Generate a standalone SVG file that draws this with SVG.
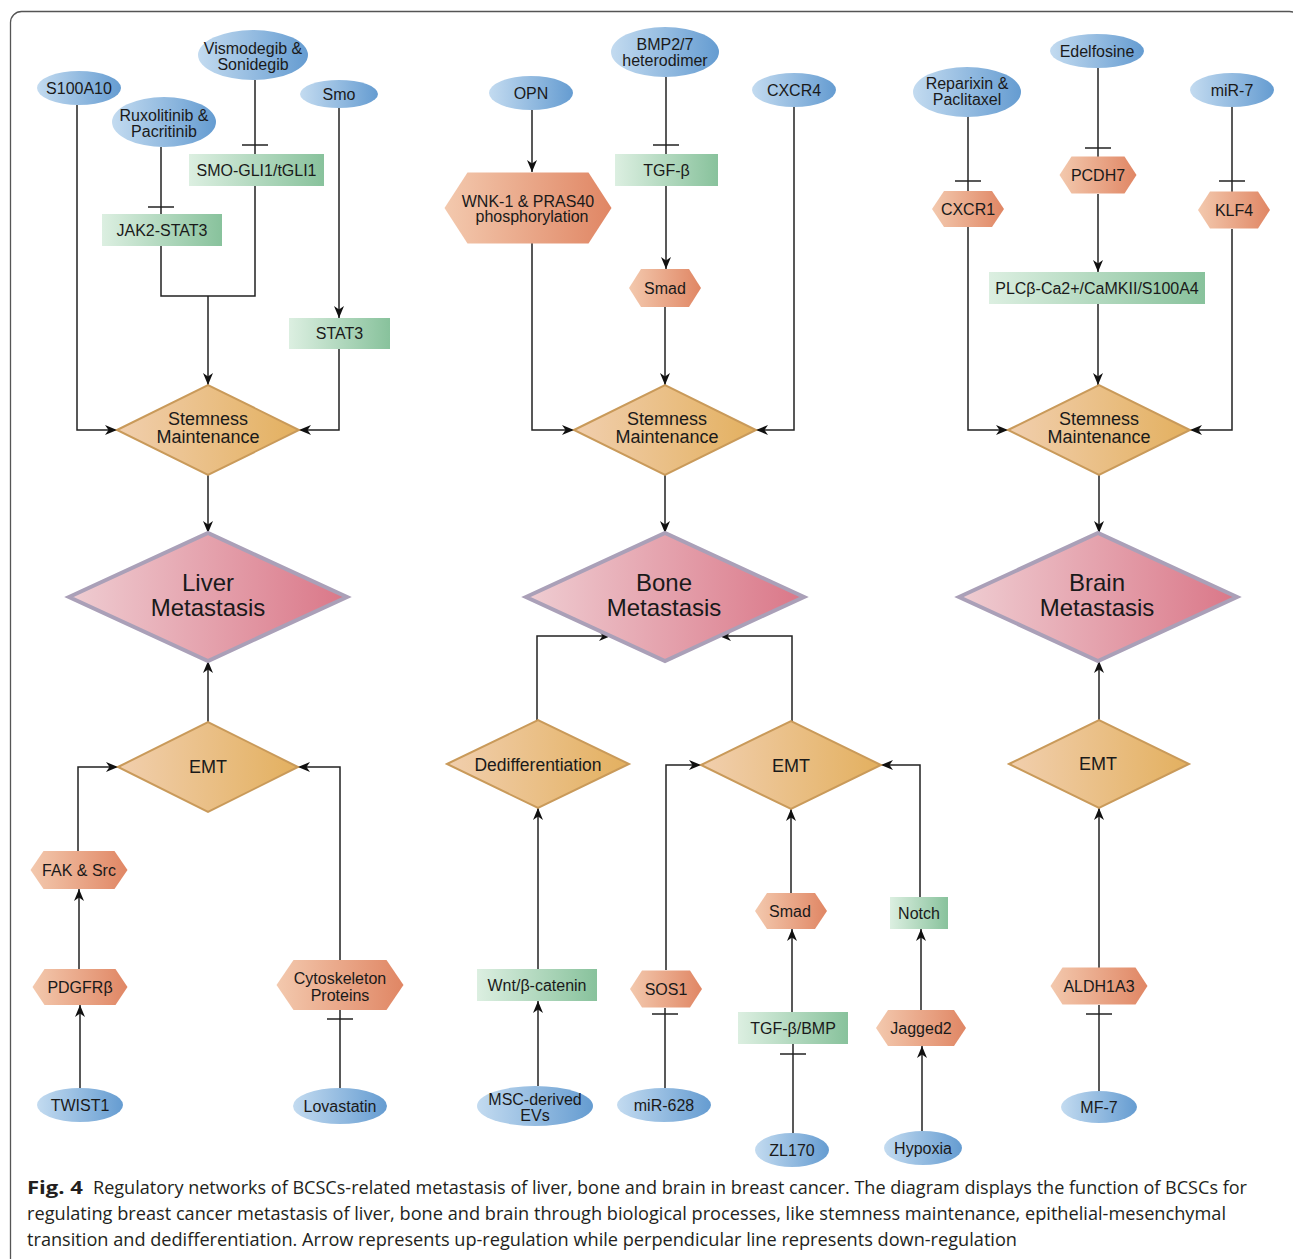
<svg xmlns="http://www.w3.org/2000/svg" width="1293" height="1259" viewBox="0 0 1293 1259">
<defs>
<linearGradient id="gBlue" x1="0" y1="0" x2="1" y2="0"><stop offset="0" stop-color="#c3dbf0"/><stop offset="1" stop-color="#659cd1"/></linearGradient>
<linearGradient id="gGreen" x1="0" y1="0" x2="1" y2="0"><stop offset="0" stop-color="#dcefe1"/><stop offset="1" stop-color="#88c29c"/></linearGradient>
<linearGradient id="gSalmon" x1="0" y1="0" x2="1" y2="0"><stop offset="0" stop-color="#f3c9ae"/><stop offset="1" stop-color="#e08664"/></linearGradient>
<linearGradient id="gTan" x1="0" y1="0" x2="1" y2="0"><stop offset="0" stop-color="#f1cfae"/><stop offset="1" stop-color="#e3b05f"/></linearGradient>
<linearGradient id="gPink" x1="0" y1="0" x2="1" y2="0"><stop offset="0" stop-color="#efcdd2"/><stop offset="1" stop-color="#da7788"/></linearGradient>
<marker id="arr" viewBox="0 0 12 10" refX="12" refY="5" markerWidth="12" markerHeight="10" markerUnits="userSpaceOnUse" orient="auto">
<path d="M0,0 L12,5 L0,10 L3.5,5 z" fill="#111"/>
</marker>
</defs>
<style>
.t{font-family:"Liberation Sans",Arial,sans-serif;fill:#1a1a1a;text-anchor:middle;font-size:16px}
.ell{fill:url(#gBlue)}
.box{fill:url(#gGreen)}
.hex{fill:url(#gSalmon)}
.dia{fill:url(#gTan);stroke:#c99a5a;stroke-width:2}
.met{fill:url(#gPink);stroke:#aaa0b8;stroke-width:4;stroke-linejoin:miter}
.c{fill:none;stroke:#222;stroke-width:1.5}
.a{marker-end:url(#arr)}
.cap{font-family:"Open Sans","Liberation Sans",sans-serif;fill:#231f20;font-size:18px}
</style>
<rect width="1293" height="1259" fill="#fff"/>
<rect x="10.5" y="11.5" width="1290" height="1262" rx="11" fill="none" stroke="#555" stroke-width="1.3"/>

<g id="connectors">
<!-- Liver -->
<path class="c a" d="M77,105 V430 H117"/>
<path class="c" d="M161,147 V214"/><path class="c" d="M148,207 H174"/>
<path class="c" d="M255,80 V154"/><path class="c" d="M242,145 H268"/>
<path class="c" d="M161,246 V296 H255 V186"/>
<path class="c a" d="M208,296 V385"/>
<path class="c a" d="M339,108 V318"/>
<path class="c a" d="M339,349 V430 H299"/>
<path class="c a" d="M208,475 V533"/>
<path class="c a" d="M208,722 V661"/>
<path class="c a" d="M78,851 V767 H118"/>
<path class="c a" d="M79,969 V889"/>
<path class="c a" d="M80,1088 V1005"/>
<path class="c a" d="M340,960 V767 H298"/>
<path class="c" d="M340,1088 V1010"/><path class="c" d="M327,1019 H353"/>
<!-- Bone -->
<path class="c a" d="M532,110 V172"/>
<path class="c a" d="M532,243 V430 H574"/>
<path class="c" d="M666,77 V154"/><path class="c" d="M653,145 H679"/>
<path class="c a" d="M666,186 V269"/>
<path class="c a" d="M665,307 V385"/>
<path class="c a" d="M794,107 V430 H756"/>
<path class="c a" d="M665,475 V533"/>
<path class="c a" d="M537,720 V636 H611"/>
<path class="c a" d="M792,721 V636 H719"/>
<path class="c a" d="M538,969 V808"/>
<path class="c a" d="M538,1086 V1001"/>
<path class="c a" d="M666,970 V765 H701"/>
<path class="c" d="M665,1088 V1008"/><path class="c" d="M652,1014 H678"/>
<path class="c a" d="M791,893 V809"/>
<path class="c a" d="M792,1012 V929"/>
<path class="c" d="M793,1133 V1044"/><path class="c" d="M780,1054 H806"/>
<path class="c a" d="M920,897 V765 H881"/>
<path class="c a" d="M921,1010 V929"/>
<path class="c a" d="M922,1131 V1046"/>
<!-- Brain -->
<path class="c" d="M968,116 V191"/><path class="c" d="M955,181 H981"/>
<path class="c" d="M1098,68 V157"/><path class="c" d="M1085,148 H1111"/>
<path class="c" d="M1232,107 V192"/><path class="c" d="M1219,181 H1245"/>
<path class="c a" d="M1098,194 V272"/>
<path class="c a" d="M1098,304 V385"/>
<path class="c a" d="M968,227 V430 H1008"/>
<path class="c a" d="M1232,229 V430 H1190"/>
<path class="c a" d="M1099,475 V533"/>
<path class="c a" d="M1099,720 V661"/>
<path class="c a" d="M1099,968 V808"/>
<path class="c" d="M1099,1091 V1005"/><path class="c" d="M1086,1014 H1112"/>
</g>

<!-- Liver column -->
<g id="s100a10"><ellipse class="ell" cx="79" cy="88" rx="42" ry="17"/><text class="t" x="79" y="94">S100A10</text></g>
<g id="ruxolitinib"><ellipse class="ell" cx="164" cy="122" rx="52" ry="25"/><text class="t" x="164" y="121">Ruxolitinib &amp;</text><text class="t" x="164" y="137">Pacritinib</text></g>
<g id="vismodegib"><ellipse class="ell" cx="253" cy="55" rx="55" ry="25"/><text class="t" x="253" y="54">Vismodegib &amp;</text><text class="t" x="253" y="70">Sonidegib</text></g>
<g id="smo"><ellipse class="ell" cx="339" cy="94" rx="39" ry="14"/><text class="t" x="339" y="100">Smo</text></g>
<g id="smo-gli1"><rect class="box" x="189" y="154" width="135" height="32"/><text class="t" x="256.5" y="176">SMO-GLI1/tGLI1</text></g>
<g id="jak2-stat3"><rect class="box" x="102" y="214" width="120" height="32"/><text class="t" x="162" y="236">JAK2-STAT3</text></g>
<g id="stat3"><rect class="box" x="289" y="318" width="101" height="31"/><text class="t" x="339.5" y="339">STAT3</text></g>
<g id="stemness-liver"><polygon class="dia" points="117,430 208,385 299,430 208,475"/><text class="t" x="208" y="425" style="font-size:18px">Stemness</text><text class="t" x="208" y="443" style="font-size:18px">Maintenance</text></g>
<g id="liver-metastasis"><polygon class="met" points="69,597 208,533 347,597 208,661"/><text class="t" x="208" y="591" style="font-size:24px">Liver</text><text class="t" x="208" y="616" style="font-size:24px">Metastasis</text></g>
<g id="emt-liver"><polygon class="dia" points="118,767 208,722 298,767 208,812"/><text class="t" x="208" y="773" style="font-size:18px">EMT</text></g>
<g id="fak-src"><polygon class="hex" points="30.5,870 43.5,851 114.5,851 127.5,870 114.5,889 43.5,889"/><text class="t" x="79" y="876">FAK &amp; Src</text></g>
<g id="pdgfrb"><polygon class="hex" points="32.5,987 44.5,969 115.5,969 127.5,987 115.5,1005 44.5,1005"/><text class="t" x="80" y="993">PDGFRβ</text></g>
<g id="twist1"><ellipse class="ell" cx="80" cy="1105" rx="43" ry="17"/><text class="t" x="80" y="1111">TWIST1</text></g>
<g id="cytoskeleton"><polygon class="hex" points="276.5,985 293.5,960 386.5,960 403.5,985 386.5,1010 293.5,1010"/><text class="t" x="340" y="984">Cytoskeleton</text><text class="t" x="340" y="1001">Proteins</text></g>
<g id="lovastatin"><ellipse class="ell" cx="340" cy="1106" rx="47" ry="18"/><text class="t" x="340" y="1112">Lovastatin</text></g>

<!-- Bone column -->
<g id="opn"><ellipse class="ell" cx="531" cy="93" rx="42" ry="17"/><text class="t" x="531" y="99">OPN</text></g>
<g id="wnk1-pras40"><polygon class="hex" points="444.5,208 467.5,172.5 588.5,172.5 611.5,208 588.5,243.5 467.5,243.5"/><text class="t" x="528" y="207">WNK-1 &amp; PRAS40</text><text class="t" x="532" y="222">phosphorylation</text></g>
<g id="bmp27"><ellipse class="ell" cx="665" cy="52" rx="54" ry="25"/><text class="t" x="665" y="50">BMP2/7</text><text class="t" x="665" y="66">heterodimer</text></g>
<g id="tgfb"><rect class="box" x="615" y="154" width="103" height="32"/><text class="t" x="666.5" y="176">TGF-β</text></g>
<g id="smad-top"><polygon class="hex" points="629,288 641,269 689,269 701,288 689,307 641,307"/><text class="t" x="665" y="294">Smad</text></g>
<g id="cxcr4"><ellipse class="ell" cx="794" cy="90" rx="42" ry="17"/><text class="t" x="794" y="96">CXCR4</text></g>
<g id="stemness-bone"><polygon class="dia" points="574,430 665,385 756,430 665,475"/><text class="t" x="667" y="425" style="font-size:18px">Stemness</text><text class="t" x="667" y="443" style="font-size:18px">Maintenance</text></g>
<g id="bone-metastasis"><polygon class="met" points="526,597 665,533 804,597 665,661"/><text class="t" x="664" y="591" style="font-size:24px">Bone</text><text class="t" x="664" y="616" style="font-size:24px">Metastasis</text></g>
<g id="dedifferentiation"><polygon class="dia" points="447,764 538,720 629,764 538,808"/><text class="t" x="538" y="771" style="font-size:17.5px">Dedifferentiation</text></g>
<g id="emt-bone"><polygon class="dia" points="701,765 791,721 881,765 791,809"/><text class="t" x="791" y="772" style="font-size:18px">EMT</text></g>
<g id="wnt"><rect class="box" x="477" y="969" width="120" height="32"/><text class="t" x="537" y="991">Wnt/β-catenin</text></g>
<g id="msc-evs"><ellipse class="ell" cx="535" cy="1106" rx="58" ry="20"/><text class="t" x="535" y="1105">MSC-derived</text><text class="t" x="535" y="1121">EVs</text></g>
<g id="sos1"><polygon class="hex" points="630,989 642,970.5 690,970.5 702,989 690,1007.5 642,1007.5"/><text class="t" x="666" y="995">SOS1</text></g>
<g id="mir628"><ellipse class="ell" cx="664" cy="1105" rx="47" ry="17"/><text class="t" x="664" y="1111">miR-628</text></g>
<g id="smad-bottom"><polygon class="hex" points="755,911 767,893 815,893 827,911 815,929 767,929"/><text class="t" x="790" y="917">Smad</text></g>
<g id="tgfb-bmp"><rect class="box" x="738" y="1012" width="110" height="32"/><text class="t" x="793" y="1034">TGF-β/BMP</text></g>
<g id="zl170"><ellipse class="ell" cx="792" cy="1150" rx="37" ry="17"/><text class="t" x="792" y="1156">ZL170</text></g>
<g id="notch"><rect class="box" x="890" y="897" width="58" height="32"/><text class="t" x="919" y="919">Notch</text></g>
<g id="jagged2"><polygon class="hex" points="876,1028 888,1010 954,1010 966,1028 954,1046 888,1046"/><text class="t" x="921" y="1034">Jagged2</text></g>
<g id="hypoxia"><ellipse class="ell" cx="923" cy="1148" rx="39" ry="17"/><text class="t" x="923" y="1154">Hypoxia</text></g>

<!-- Brain column -->
<g id="reparixin"><ellipse class="ell" cx="967" cy="92" rx="54" ry="25"/><text class="t" x="967" y="89">Reparixin &amp;</text><text class="t" x="967" y="105">Paclitaxel</text></g>
<g id="edelfosine"><ellipse class="ell" cx="1097" cy="51" rx="47" ry="17"/><text class="t" x="1097" y="57">Edelfosine</text></g>
<g id="mir7"><ellipse class="ell" cx="1232" cy="90" rx="42" ry="17"/><text class="t" x="1232" y="96">miR-7</text></g>
<g id="cxcr1"><polygon class="hex" points="932,209 944,191 992,191 1004,209 992,227 944,227"/><text class="t" x="968" y="215">CXCR1</text></g>
<g id="pcdh7"><polygon class="hex" points="1059.5,175 1071.5,156.5 1124.5,156.5 1136.5,175 1124.5,193.5 1071.5,193.5"/><text class="t" x="1098" y="181">PCDH7</text></g>
<g id="klf4"><polygon class="hex" points="1198,210 1210,191.5 1258,191.5 1270,210 1258,228.5 1210,228.5"/><text class="t" x="1234" y="216">KLF4</text></g>
<g id="plcb"><rect class="box" x="989" y="272" width="216" height="32"/><text class="t" x="1097" y="294">PLCβ-Ca2+/CaMKII/S100A4</text></g>
<g id="stemness-brain"><polygon class="dia" points="1008,430 1099,385 1190,430 1099,475"/><text class="t" x="1099" y="425" style="font-size:18px">Stemness</text><text class="t" x="1099" y="443" style="font-size:18px">Maintenance</text></g>
<g id="brain-metastasis"><polygon class="met" points="959,597 1098,533 1237,597 1098,661"/><text class="t" x="1097" y="591" style="font-size:24px">Brain</text><text class="t" x="1097" y="616" style="font-size:24px">Metastasis</text></g>
<g id="emt-brain"><polygon class="dia" points="1009,764 1099,720 1189,764 1099,808"/><text class="t" x="1098" y="770" style="font-size:18px">EMT</text></g>
<g id="aldh1a3"><polygon class="hex" points="1050.5,986 1062.5,967.5 1135.5,967.5 1147.5,986 1135.5,1004.5 1062.5,1004.5"/><text class="t" x="1099" y="992">ALDH1A3</text></g>
<g id="mf7"><ellipse class="ell" cx="1099" cy="1107" rx="38" ry="16"/><text class="t" x="1099" y="1113">MF-7</text></g>

<!-- Caption -->
<g id="caption">
<text class="cap" x="27" y="1194" style="font-weight:bold" textLength="56" lengthAdjust="spacingAndGlyphs">Fig. 4</text>
<text class="cap" x="93" y="1194" textLength="1154" lengthAdjust="spacingAndGlyphs">Regulatory networks of BCSCs-related metastasis of liver, bone and brain in breast cancer. The diagram displays the function of BCSCs for</text>
<text class="cap" x="27" y="1220" textLength="1199" lengthAdjust="spacingAndGlyphs">regulating breast cancer metastasis of liver, bone and brain through biological processes, like stemness maintenance, epithelial-mesenchymal</text>
<text class="cap" x="27" y="1246" textLength="990" lengthAdjust="spacingAndGlyphs">transition and dedifferentiation. Arrow represents up-regulation while perpendicular line represents down-regulation</text>
</g>
</svg>
